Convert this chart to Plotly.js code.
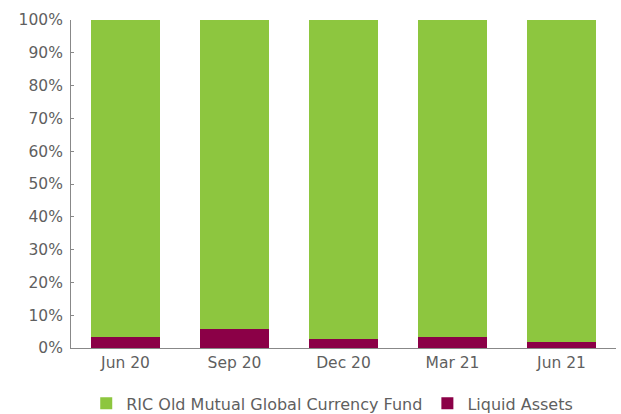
<!DOCTYPE html>
<html><head><meta charset="utf-8">
<script src="https://cdn.plot.ly/plotly-3.0.1.min.js"></script>
<style>html,body{margin:0;padding:0;background:#fff;}#chart{width:621px;height:414px;}</style>
</head><body><div id="chart"></div>
<script>
var categories = ["Jun 20", "Sep 20", "Dec 20", "Mar 21", "Jun 21"];
var liquidAssets = [3.4, 5.7, 2.8, 3.4, 1.7];
var fundValues = [96.6, 94.3, 97.2, 96.6, 98.3];
var yTickVals = [0,10,20,30,40,50,60,70,80,90,100];
var yTickText = ["0%","10%","20%","30%","40%","50%","60%","70%","80%","90%","100%"];

var font = {family: "'DejaVu Sans', sans-serif", size: 15.5, color: "#5f5f5f"};
var legendFont = {family: "'DejaVu Sans', sans-serif", size: 16, color: "#5f5f5f"};
var traces = [
  {type: "bar", name: "Liquid Assets", x: categories, y: liquidAssets, marker: {color: "#8B0047"}, hoverinfo: "skip"},
  {type: "bar", name: "RIC Old Mutual Global Currency Fund", x: categories, y: fundValues, marker: {color: "#8DC63F"}, hoverinfo: "skip"}
];
var layout = {
  width: 621, height: 414,
  margin: {l: 71, r: 5, t: 20, b: 66, autoexpand: false},
  barmode: "stack", bargap: 0.367,
  paper_bgcolor: "#fff", plot_bgcolor: "#fff",
  font: font,
  showlegend: true,
  legend: {orientation: "h", x: 0.535, xanchor: "center", xref: "container", y: -0.117, yanchor: "top", traceorder: "reversed", font: legendFont},
  xaxis: {showline: true, linecolor: "#888", linewidth: 1, ticks: "", showgrid: false, tickfont: font, fixedrange: true},
  yaxis: {range: [0, 100], tickvals: yTickVals, ticktext: yTickText, showline: true, linecolor: "#888", linewidth: 1,
          ticks: "inside", ticklen: 3, tickcolor: "#888", showgrid: false, zeroline: false, tickfont: font, fixedrange: true, ticklabelstandoff: 4}
};
Plotly.newPlot("chart", traces, layout, {displayModeBar: false, staticPlot: true});
</script></body></html>
